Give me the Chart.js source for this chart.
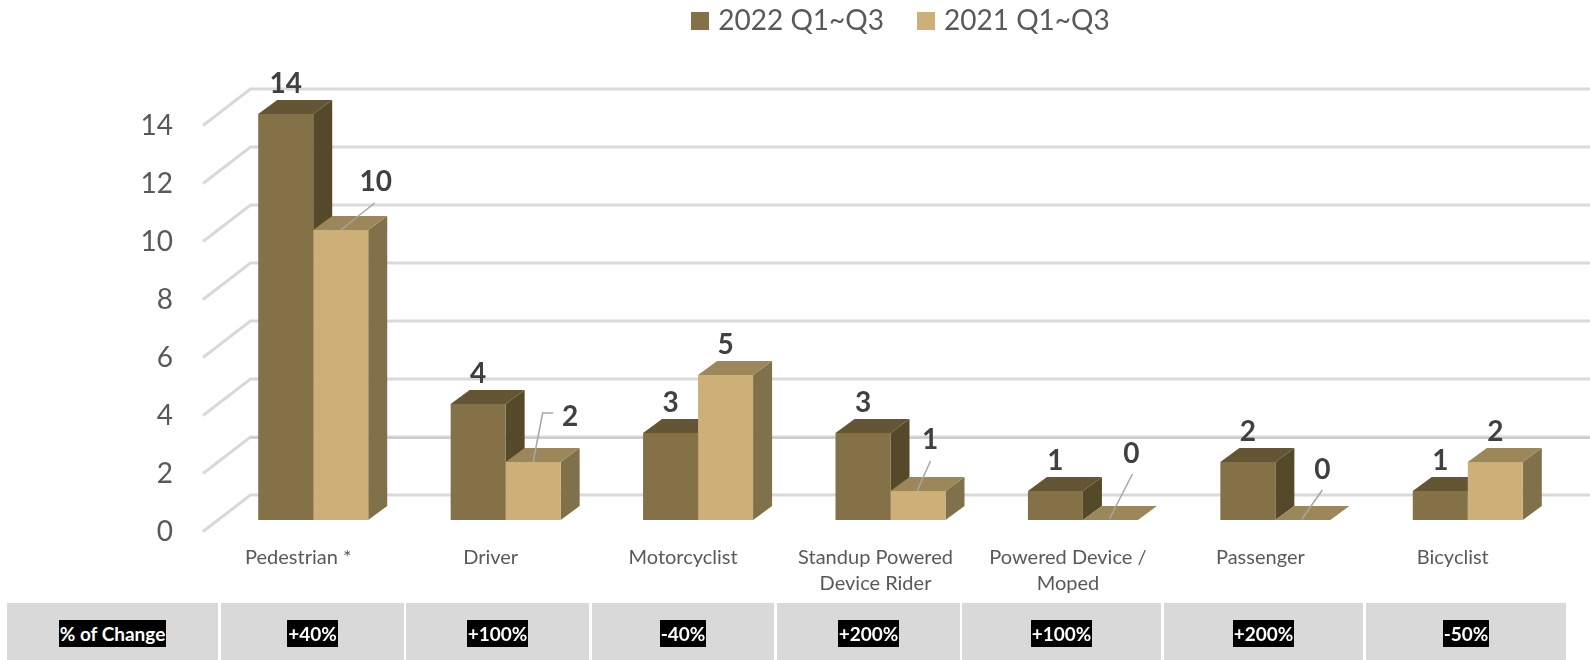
<!DOCTYPE html>
<html>
<head>
<meta charset="utf-8">
<title>Fatalities by road user type</title>
<script src="https://cdn.jsdelivr.net/npm/chart.js@4"></script>
<style>
  html, body { margin: 0; padding: 0; background: #fff; }
  #wrap { position: relative; width: 1590px; height: 660px; overflow: hidden; }
  #chart { position: absolute; left: 0; top: 0; }
  .cell { position: absolute; top: 603px; height: 57px; background: #d9d9d9; text-align: center; }
  .cell span { display: inline-block; margin-top: 17px; height: 27px; line-height: 27px; padding: 0 1px;
    background: #000; color: #fff; font: bold 19px/27px Lato, sans-serif; }
</style>
</head>
<body>
<div id="wrap">
  <canvas id="chart" width="1590" height="660"></canvas>
  <div id="table"></div>
</div>
<script>
var categories = ["Pedestrian *", "Driver", "Motorcyclist", ["Standup Powered", "Device Rider"],
  ["Powered Device /", "Moped"], "Passenger", "Bicyclist"];
var values2022 = [14, 4, 3, 3, 1, 2, 1];
var values2021 = [10, 2, 5, 1, 0, 0, 2];
var changeLabels = ["% of Change", "+40%", "+100%", "-40%", "+200%", "+100%", "+200%", "-50%"];
var cellEdges = [[7, 218], [221, 404], [406, 589], [592, 774], [777, 960], [962, 1161], [1164, 1363], [1366, 1566]];

// depth of the extruded bars and of the back wall, in pixels
var barDepth = { x: 19, y: 14 };
var wallDepth = { x: 47.5, y: 36.5 };
var wallFront = { x: 203, y: 11.5 }; // front end of the wall ticks, y relative to the value

// face colours per dataset
var faces = [
  { top: "#645534", side: "#544929" },
  { top: "#9c875b", side: "#81714a" }
];

// value labels sit above the bar, a few of them are pulled away with a leader line
var labelDefault = { dx: 0, dy: -30.5 };
var labelMoved = {
  "1:0": { dx: 35, dy: -48, leader: [[34, -27], [0, 0]] },
  "1:1": { dx: 37, dy: -45.5, leader: [[20, -49], [9.5, -49], [0, 0]] },
  "1:3": { dx: 12, dy: -51, leader: [[12.5, -30], [-1, 0]] },
  "1:4": { dx: 21, dy: -66.5, leader: [[22, -46], [-1, -1]] },
  "1:5": { dx: 19.5, dy: -50.5, leader: [[19.5, -30], [-1, -1]] }
};

function poly(ctx, pts, color) {
  ctx.fillStyle = color;
  ctx.beginPath();
  ctx.moveTo(pts[0][0], pts[0][1]);
  for (var i = 1; i < pts.length; i++) ctx.lineTo(pts[i][0], pts[i][1]);
  ctx.closePath();
  ctx.fill();
}

// legend swatch as a small canvas, the default box leaves too big a gap to the text
function legendSwatch(color) {
  var c = document.createElement("canvas");
  c.width = 18;
  c.height = 18;
  var g = c.getContext("2d");
  g.fillStyle = color;
  g.fillRect(0, 0, 18, 18);
  return c;
}

var depthPlugin = {
  id: "depth",
  afterLayout: function (chart) {
    // legend sits right of centre and higher than the layout would place it
    var legend = chart.legend;
    legend.left += 121;
    legend.right += 121;
    var shift = legend.top + 31;
    legend.top -= shift;
    legend.bottom -= shift;
  },
  beforeDatasetsDraw: function (chart) {
    var ctx = chart.ctx, y = chart.scales.y;
    ctx.save();

    // back wall lines and the diagonals at the left
    y.ticks.forEach(function (t) {
      var py = y.getPixelForValue(t.value) + wallFront.y;
      var backX = wallFront.x + wallDepth.x, backY = py - wallDepth.y;
      ctx.strokeStyle = "#d9d9d9";
      ctx.lineWidth = 3;
      ctx.beginPath();
      ctx.moveTo(wallFront.x, py);
      ctx.lineTo(backX, backY);
      ctx.lineTo(1590, backY);
      ctx.stroke();
      if (t.value === 2) {
        ctx.strokeStyle = "#b8b8b8";
        ctx.lineWidth = 1;
        ctx.beginPath();
        ctx.moveTo(backX, backY + 1);
        ctx.lineTo(1590, backY + 1);
        ctx.stroke();
      }
    });

    // side and top faces, first series first so the second one covers it
    chart.data.datasets.forEach(function (ds, d) {
      chart.getDatasetMeta(d).data.forEach(function (bar) {
        var l = bar.x - bar.width / 2, r = bar.x + bar.width / 2;
        var t = bar.y, b = bar.base, dx = barDepth.x, dy = barDepth.y;
        if (b - t > 0.5) {
          poly(ctx, [[r, t], [r + dx, t - dy], [r + dx, b - dy], [r, b]], faces[d].side);
        }
        poly(ctx, [[l, t], [l + dx, t - dy], [r + dx, t - dy], [r, t]], faces[d].top);
      });
    });
    ctx.restore();
  },
  afterDatasetsDraw: function (chart) {
    var ctx = chart.ctx;
    ctx.save();
    chart.data.datasets.forEach(function (ds, d) {
      chart.getDatasetMeta(d).data.forEach(function (bar, i) {
        var pos = labelMoved[d + ":" + i] || labelDefault;
        if (pos.leader) {
          ctx.strokeStyle = "#a6a6a6";
          ctx.lineWidth = 1.5;
          ctx.beginPath();
          pos.leader.forEach(function (p, k) {
            if (k === 0) ctx.moveTo(bar.x + p[0], bar.y + p[1]);
            else ctx.lineTo(bar.x + p[0], bar.y + p[1]);
          });
          ctx.stroke();
        }
        ctx.fillStyle = "#404040";
        ctx.font = "bold 28px Lato";
        ctx.textAlign = "center";
        ctx.textBaseline = "middle";
        ctx.fillText(String(ds.data[i]), bar.x + pos.dx, bar.y + pos.dy);
      });
    });
    ctx.restore();
  }
};

new Chart(document.getElementById("chart").getContext("2d"), {
  type: "bar",
  plugins: [depthPlugin],
  data: {
    labels: categories,
    datasets: [
      { label: "2022 Q1~Q3", data: values2022, backgroundColor: "#857148" },
      { label: "2021 Q1~Q3", data: values2021, backgroundColor: "#cdb077" }
    ]
  },
  options: {
    responsive: false,
    animation: false,
    devicePixelRatio: 1,
    layout: { padding: { top: 38, right: 26, bottom: 0, left: 0 } },
    datasets: { bar: { categoryPercentage: 0.5717, barPercentage: 1 } },
    plugins: {
      tooltip: { enabled: false },
      legend: {
        position: "top",
        labels: {
          usePointStyle: true, pointStyleWidth: 8, padding: 38, color: "#595959",
          font: { family: "Lato", size: 28 },
          generateLabels: function (chart) {
            var items = Chart.defaults.plugins.legend.labels.generateLabels(chart);
            items.forEach(function (item) {
              item.pointStyle = legendSwatch(item.fillStyle);
            });
            return items;
          }
        }
      }
    },
    scales: {
      x: {
        afterFit: function (scale) { scale.height = 140; },
        grid: { display: false },
        border: { display: false },
        ticks: {
          autoSkip: false, maxRotation: 0, minRotation: 0, labelOffset: -15, padding: 17,
          color: "#595959", font: { family: "Lato", size: 20, lineHeight: 1.3 }
        }
      },
      y: {
        min: 0, max: 14,
        afterFit: function (scale) { scale.width = 217; },
        grid: { display: false },
        border: { display: false },
        ticks: {
          stepSize: 2, labelOffset: 12, padding: 36,
          color: "#595959", font: { family: "Lato", size: 28 }
        }
      }
    }
  }
});

// % of change strip below the chart
var table = document.getElementById("table");
changeLabels.forEach(function (text, i) {
  var cell = document.createElement("div");
  cell.className = "cell";
  cell.style.left = cellEdges[i][0] + "px";
  cell.style.width = (cellEdges[i][1] - cellEdges[i][0]) + "px";
  var span = document.createElement("span");
  span.textContent = text;
  cell.appendChild(span);
  table.appendChild(cell);
});
</script>
</body>
</html>
